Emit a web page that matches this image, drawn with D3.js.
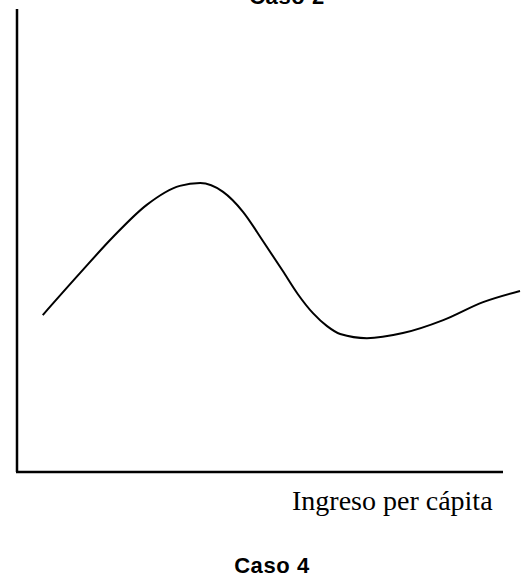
<!DOCTYPE html>
<meta charset="utf-8">
<style>
body { margin: 0; background: #fff; }
.line { fill: none; stroke: #000; stroke-width: 2px; }
.axis { stroke: #000; stroke-width: 2.5px; }
</style>
<body>
<script src="https://d3js.org/d3.v7.min.js"></script>
<script>

// curve (arbitrary units, 0-100 on both axes)
var xVals = [5.3, 13.0, 19.8, 26.7, 33.5, 37.7, 42.4, 46.5, 50.6, 54.7, 57.8, 60.9, 63.8, 66.5, 72.0, 79.4, 87.7, 95.9, 103.5];
var yVals = [33.9, 43.0, 50.8, 57.7, 61.8, 62.4, 60.5, 56.2, 49.9, 43.4, 38.4, 34.3, 31.5, 29.8, 28.9, 30.0, 32.8, 36.7, 39.1];

var xLabel = "Ingreso per cápita";
var topTitle = "Caso 2";
var bottomTitle = "Caso 4";

var width = 521, height = 586;

var x = d3.scaleLinear().domain([0, 100]).range([17, 503]);
var y = d3.scaleLinear().domain([0, 100]).range([472, 9]);

var svg = d3.select("body").append("svg")
    .attr("width", width)
    .attr("height", height);

var data = xVals.map(function(d, i) { return {x: d, y: yVals[i]}; });

// axes: plain lines, no ticks
svg.append("line").attr("class", "axis")
    .attr("x1", x(0)).attr("x2", x(0))
    .attr("y1", y(100)).attr("y2", y(0));
svg.append("line").attr("class", "axis")
    .attr("x1", x(0) - 1).attr("x2", x(100))
    .attr("y1", y(0)).attr("y2", y(0));

var line = d3.line()
    .x(function(d) { return x(d.x); })
    .y(function(d) { return y(d.y); })
    .curve(d3.curveMonotoneX);

svg.append("path")
    .datum(data)
    .attr("class", "line")
    .attr("d", line);

// titles
svg.append("text")
    .attr("x", 287).attr("y", 4)
    .style("text-anchor", "middle")
    .style("font-family", "Liberation Sans, Arial, sans-serif")
    .style("font-weight", "bold")
    .style("font-size", "22px")
    .style("letter-spacing", "0.6px")
    .text(topTitle);

svg.append("text")
    .attr("x", 292).attr("y", 510)
    .style("font-family", "Liberation Serif, Times New Roman, serif")
    .style("font-size", "28px")
    .text(xLabel);

svg.append("text")
    .attr("x", 272).attr("y", 573)
    .style("text-anchor", "middle")
    .style("font-family", "Liberation Sans, Arial, sans-serif")
    .style("font-weight", "bold")
    .style("font-size", "22px")
    .style("letter-spacing", "0.6px")
    .text(bottomTitle);

</script>
</body>
